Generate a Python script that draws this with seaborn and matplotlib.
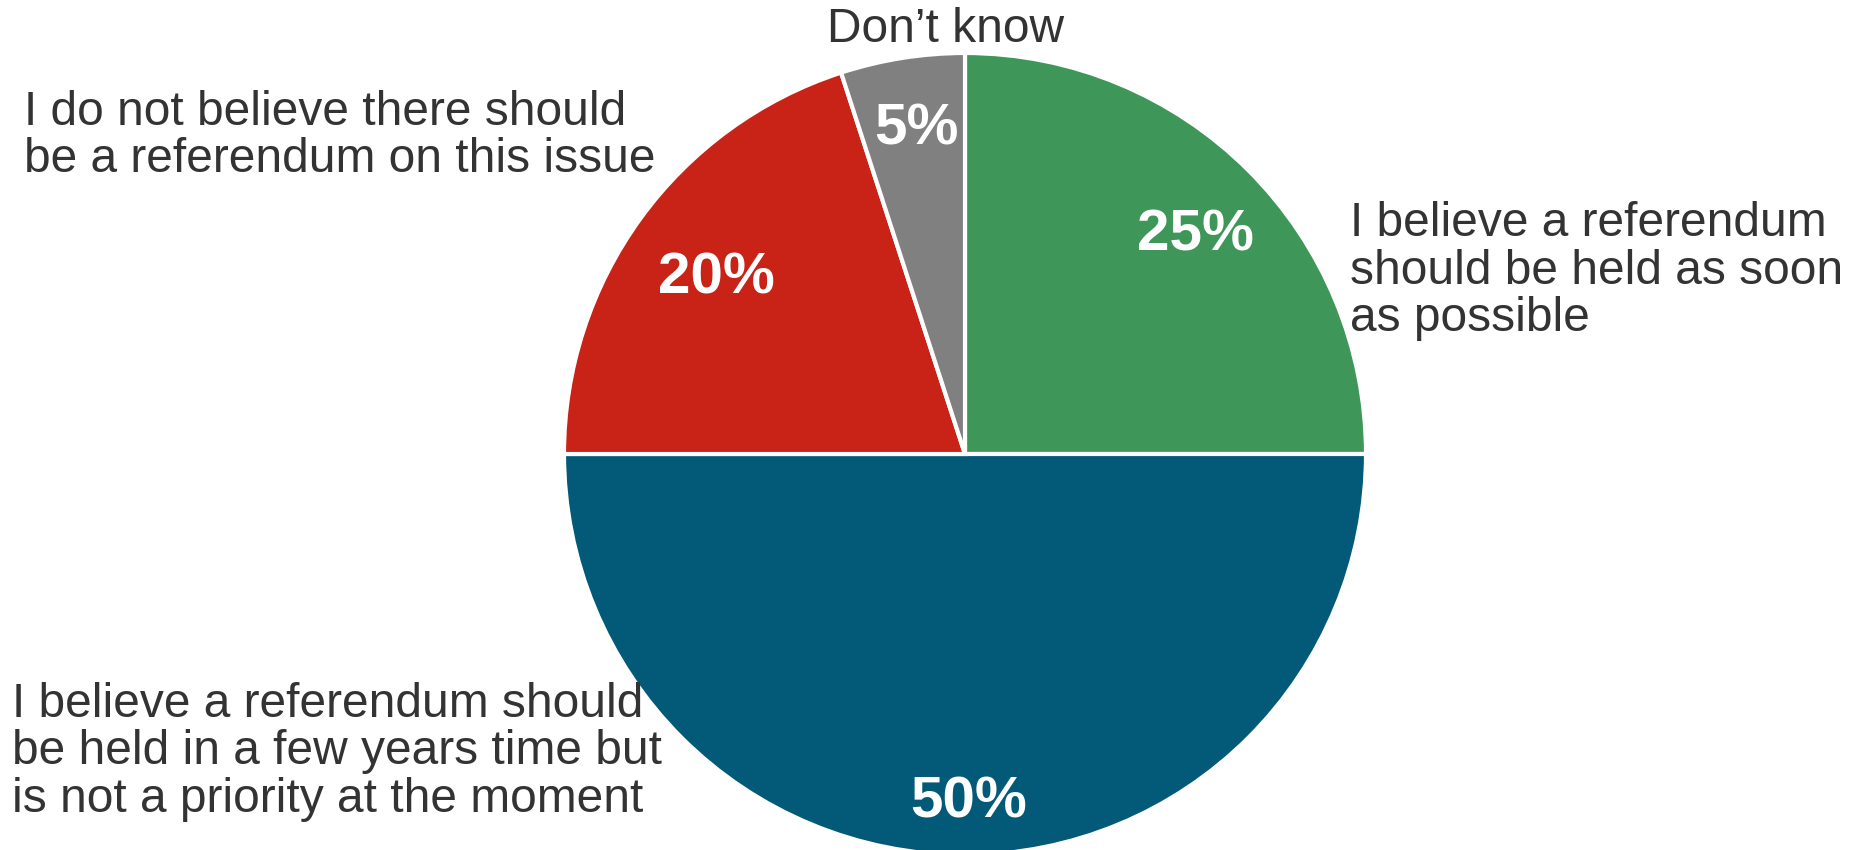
import matplotlib
matplotlib.use("Agg")
import matplotlib.pyplot as plt
import seaborn as sns
import numpy as np

sns.set_theme(style="white")
plt.rcParams['font.family'] = ['Liberation Sans', 'DejaVu Sans']

# data (clockwise from 12 o'clock)
labels = [
    "I believe a referendum\nshould be held as soon\nas possible",
    "I believe a referendum should\nbe held in a few years time but\nis not a priority at the moment",
    "I do not believe there should\nbe a referendum on this issue",
    "Don\u2019t know",
]
shares = [25, 50, 20, 5]
colors = ["#3e9758", "#025a78", "#c92216", "#808080"]

# label placement in figure pixels (x, y from top), alignment
label_pos = [(1350, 271, "left"), (12, 752, "left"), (24, 136, "left"), (946, 30, "center")]
pct_dist = [0.8, 0.85, 0.78, 0.84]

W, H = 1862, 850
fig = plt.figure(figsize=(W / 100, H / 100), dpi=100)
cx, cy, r = 965, 454, 401
ax = fig.add_axes([(cx - r) / W, (H - cy - r) / H, 2 * r / W, 2 * r / H])

wedges, texts, autotexts = ax.pie(
    shares, colors=colors, startangle=90, counterclock=False,
    autopct="%d%%", pctdistance=0.8,
    wedgeprops=dict(edgecolor="white", linewidth=3),
    textprops=dict(color="white", fontsize=42, fontweight="bold"),
)
ax.set_xlim(-1, 1)
ax.set_ylim(-1, 1)
ax.set_aspect("equal")
ax.axis("off")

for w, t, d in zip(wedges, autotexts, pct_dist):
    ang = np.deg2rad((w.theta1 + w.theta2) / 2)
    t.set_position((d * np.cos(ang) + 0.01, d * np.sin(ang) - 0.02))

for text, (x, y, ha) in zip(labels, label_pos):
    fig.text(x / W, 1 - y / H, text, ha=ha, va="center", fontsize=34.5,
             color="#333333", linespacing=1.06)

fig.savefig("out.png", dpi=100, facecolor="white")
